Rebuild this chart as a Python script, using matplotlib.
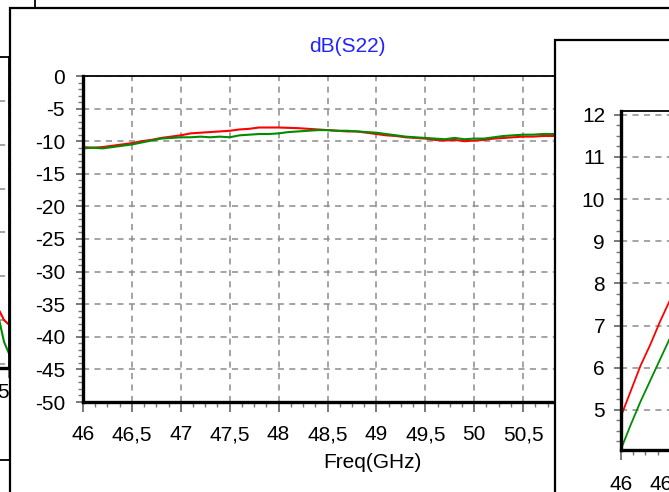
import matplotlib
matplotlib.use("Agg")
import matplotlib.pyplot as plt
from matplotlib.patches import Rectangle
from matplotlib.lines import Line2D
from matplotlib.ticker import MultipleLocator, FuncFormatter

plt.rcParams['font.family'] = ['Liberation Sans', 'DejaVu Sans']

# ---------------- data ----------------
freq = [46.0, 46.1, 46.2, 46.3, 46.4, 46.5, 46.6, 46.7, 46.8, 46.9,
        47.0, 47.1, 47.2, 47.3, 47.4, 47.5, 47.6, 47.7, 47.8, 47.9,
        48.0, 48.1, 48.2, 48.3, 48.4, 48.5, 48.6, 48.7, 48.8, 48.9,
        49.0, 49.1, 49.2, 49.3, 49.4, 49.5, 49.6, 49.7, 49.8, 49.9,
        50.0, 50.1, 50.2, 50.3, 50.4, 50.5, 50.6, 50.7, 50.8, 50.9, 51.0]
s22_red = [-10.9, -11.0, -10.9, -10.7, -10.5, -10.3, -10.0, -9.8, -9.5, -9.3,
           -9.1, -8.8, -8.7, -8.6, -8.5, -8.4, -8.2, -8.1, -7.9, -7.9,
           -7.9, -7.95, -8.0, -8.1, -8.2, -8.3, -8.4, -8.5, -8.5, -8.7,
           -8.9, -9.1, -9.2, -9.4, -9.5, -9.6, -9.8, -9.9, -9.8, -10.0,
           -9.9, -9.8, -9.6, -9.5, -9.4, -9.3, -9.3, -9.2, -9.2, -9.1, -9.1]
s22_green = [-11.1, -11.0, -11.1, -10.9, -10.7, -10.5, -10.2, -9.9, -9.6, -9.5,
             -9.4, -9.4, -9.3, -9.4, -9.3, -9.4, -9.1, -9.0, -8.9, -8.9,
             -8.8, -8.6, -8.5, -8.4, -8.3, -8.3, -8.4, -8.4, -8.5, -8.6,
             -8.7, -8.9, -9.1, -9.3, -9.4, -9.5, -9.6, -9.7, -9.5, -9.7,
             -9.6, -9.6, -9.4, -9.2, -9.1, -9.0, -9.0, -8.9, -8.9, -8.85, -8.8]

right_freq = [46.0, 46.1, 46.2, 46.3, 46.4, 46.5]
right_red = [4.85, 5.45, 6.05, 6.55, 7.1, 7.6]
right_green = [4.07, 4.65, 5.2, 5.7, 6.2, 6.7]

left_freq = [50.85, 50.9, 50.95, 51.0]
left_red = [-28.5, -28.9, -30.0, -30.5]
left_green = [-29.5, -30.0, -32.5, -33.8]

title_text = "dB(S22)"
xlabel_text = "Freq(GHz)"

# ---------------- layout helpers ----------------
W, H = 669, 492
fig = plt.figure(figsize=(W / 100, H / 100), dpi=100)
fig.patch.set_facecolor('white')


def axrect(x0, x1, ytop, ybot):
    return [x0 / W, 1 - ybot / H, (x1 - x0) / W, (ybot - ytop) / H]


comma = FuncFormatter(lambda v, p: f"{v:g}".replace('.', ','))
GRID = dict(color='#8c8c8c', linestyle=(0, (4, 3.5)), linewidth=1.1)
FS = 15


def style(ax, thick=2.4):
    ax.set_facecolor('white')
    ax.spines['left'].set_linewidth(thick)
    ax.spines['bottom'].set_linewidth(thick)
    ax.spines['top'].set_linewidth(1.3)
    ax.spines['right'].set_linewidth(1.3)
    ax.tick_params(which='major', direction='out', length=5, width=1.1,
                   color='#555555', labelsize=FS, pad=5)
    ax.tick_params(axis='x', which='major', length=7)
    ax.tick_params(which='minor', direction='out', length=3.5, width=1.0,
                   color='#777777')
    ax.grid(True, which='major', **GRID)
    ax.set_axisbelow(True)
    ax.xaxis.set_major_formatter(comma)
    ax.yaxis.set_major_formatter(comma)


# ---------------- left (background) window ----------------
axl = fig.add_axes(axrect(-480, 9, 57, 368), zorder=0)
style(axl)
axl.plot(left_freq, left_red, color='#ff0000', lw=1.5)
axl.plot(left_freq, left_green, color='#008c00', lw=1.5)
axl.set_xlim(46, 51)
axl.set_ylim(-35.45, 0)
axl.xaxis.set_major_locator(MultipleLocator(0.5))
axl.yaxis.set_major_locator(MultipleLocator(5))
axl.tick_params(axis='x', pad=4)
fig.add_artist(Line2D([0, 10 / W], [1 - 460 / H] * 2, color='black', lw=1.3,
                      transform=fig.transFigure, zorder=0.2))
fig.add_artist(Line2D([35 / W] * 2, [1, 1 - 8 / H], color='black', lw=1.3,
                      transform=fig.transFigure, zorder=0.2))

# ---------------- main window ----------------
fig.add_artist(Rectangle((10 / W, 1 - 520 / H), 700 / W, 512 / H,
                         transform=fig.transFigure, facecolor='white',
                         edgecolor='black', lw=1.6, zorder=0.5))

ax = fig.add_axes(axrect(83, 572, 76, 402), zorder=1)
style(ax)
ax.plot(freq, s22_red, color='#ff0000', lw=1.5)
ax.plot(freq, s22_green, color='#008c00', lw=1.5)
ax.set_xlim(46, 51)
ax.set_ylim(-50, 0)
ax.xaxis.set_major_locator(MultipleLocator(0.5))
ax.xaxis.set_minor_locator(MultipleLocator(0.125))
ax.yaxis.set_major_locator(MultipleLocator(5))
ax.yaxis.set_minor_locator(MultipleLocator(1))
ax.tick_params(axis='x', pad=9.9)
ax.tick_params(axis='y', pad=8)
fig.text(347 / W, 1 - 46 / H, title_text, color='#2323ff', fontsize=FS,
         ha='center', va='center', zorder=1.5)
fig.text(372 / W, 1 - 462 / H, xlabel_text, color='black', fontsize=FS,
         ha='center', va='center', zorder=1.5)

# ---------------- right (foreground) window ----------------
fig.add_artist(Rectangle((555 / W, 1 - 520 / H), 200 / W, 480 / H,
                         transform=fig.transFigure, facecolor='white',
                         edgecolor='black', lw=1.6, zorder=2))
axr = fig.add_axes(axrect(621, 621 + 489, 111, 449.5), zorder=3)
style(axr)
axr.plot(right_freq, right_red, color='#ff0000', lw=1.3)
axr.plot(right_freq, right_green, color='#008c00', lw=1.3)
axr.set_xlim(46, 51)
axr.set_ylim(4.06, 12.09)
axr.xaxis.set_major_locator(MultipleLocator(0.5))
axr.xaxis.set_minor_locator(MultipleLocator(0.125))
axr.yaxis.set_major_locator(MultipleLocator(1))
axr.yaxis.set_minor_locator(MultipleLocator(0.25))
axr.tick_params(axis='x', pad=11.3)
axr.tick_params(axis='y', pad=6.5)

fig.savefig("out.png", dpi=100)
